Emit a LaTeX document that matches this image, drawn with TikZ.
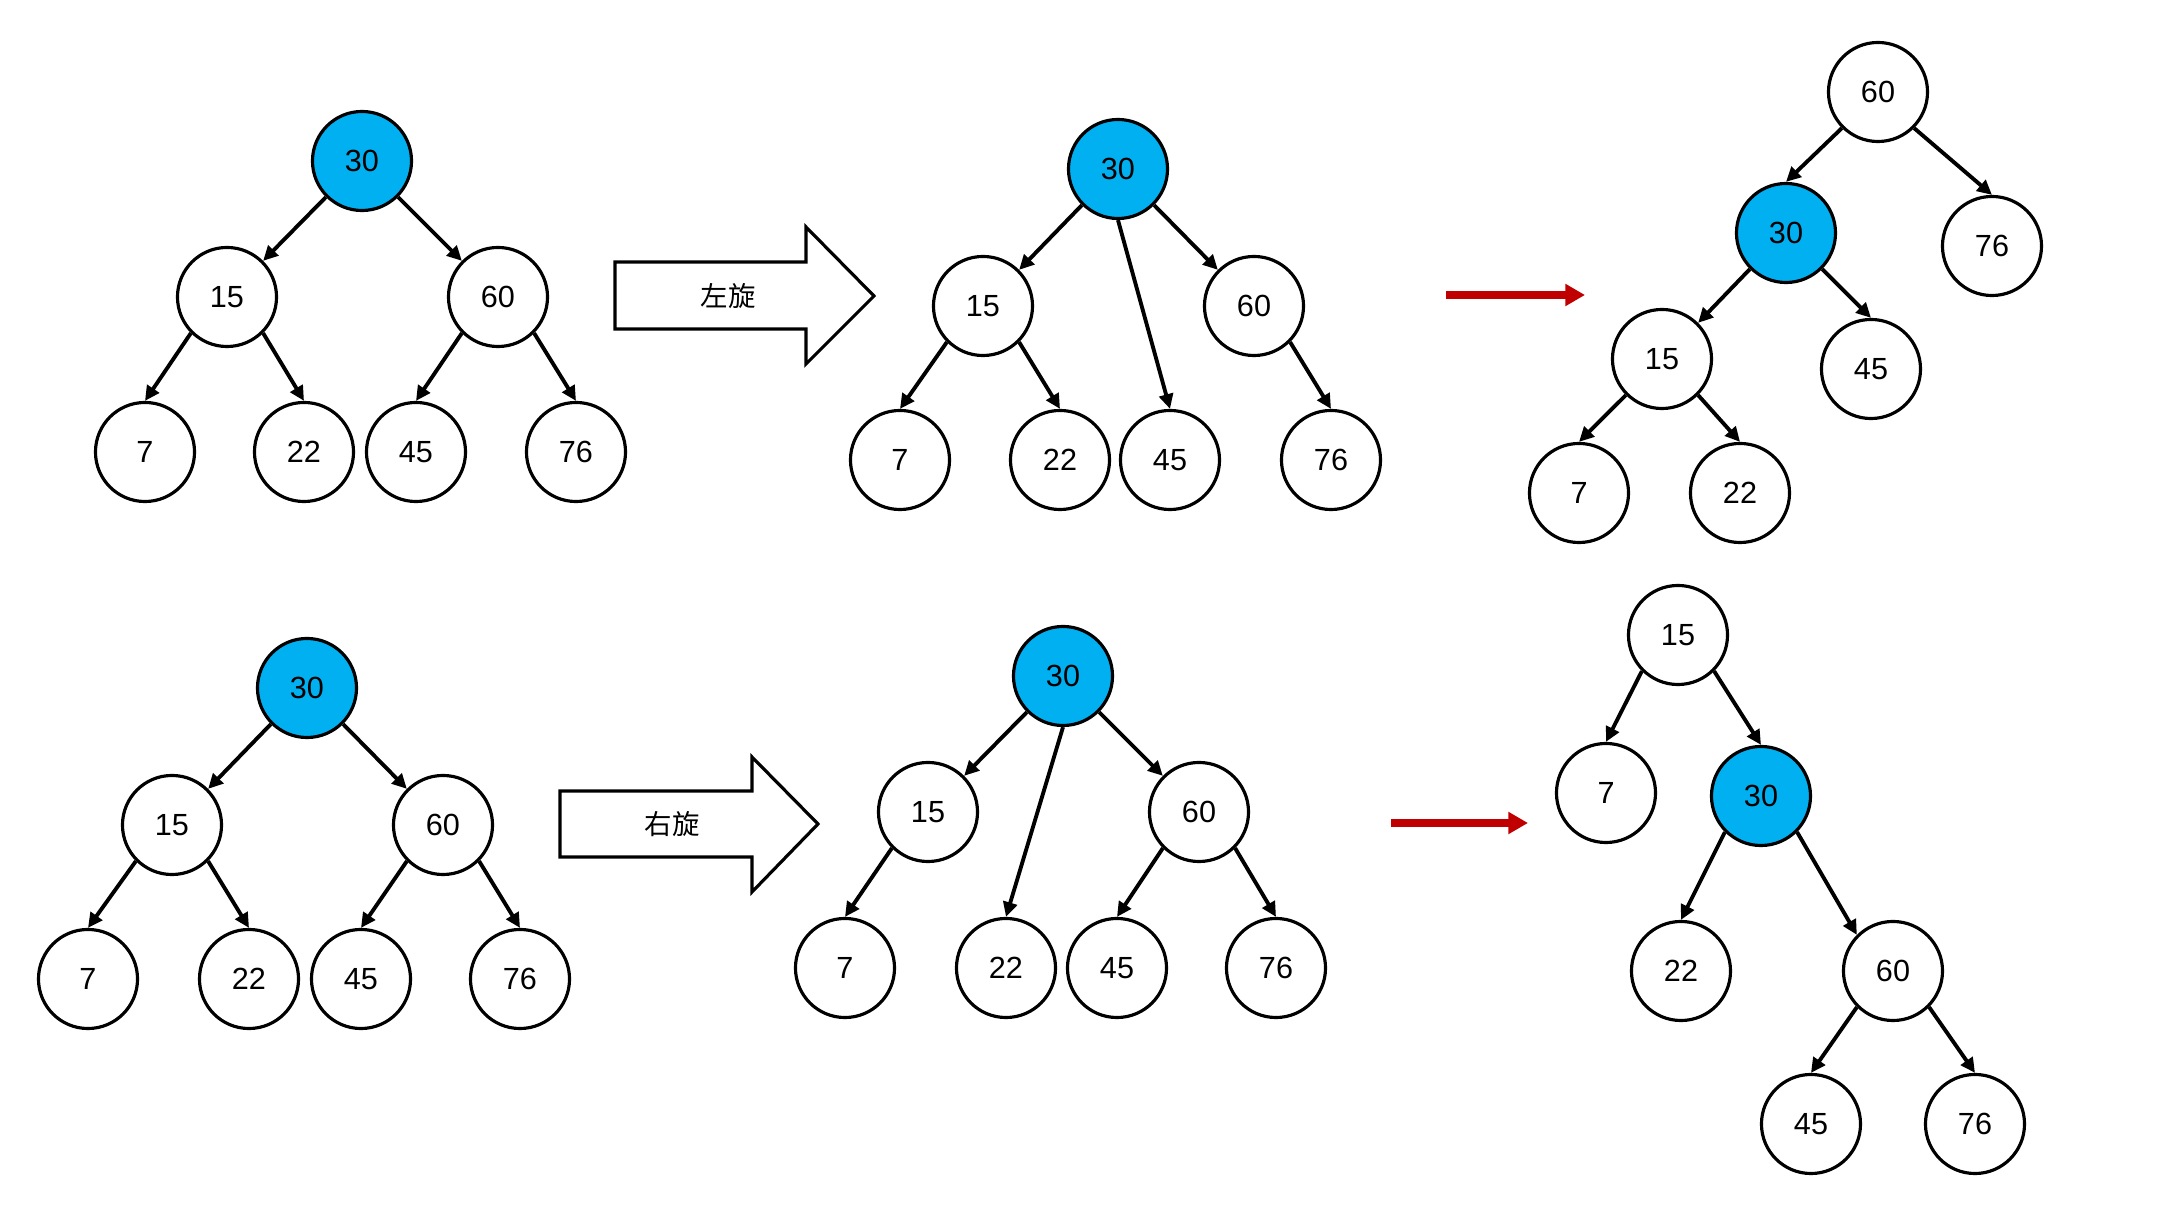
\documentclass[tikz,border=0pt]{standalone}
\usepackage{fontspec}
\setmainfont{Liberation Sans}
\newfontfamily\cjk{Noto Sans CJK SC}
\usetikzlibrary{arrows.meta}

\definecolor{pivotblue}{HTML}{00B0F0}
\definecolor{arrowred}{HTML}{C00000}

\begin{document}
\begin{tikzpicture}[x=0.01cm,y=-0.01cm,
    key node/.style={circle,draw,line width=0.9pt,minimum size=0.99cm,inner sep=0pt,font=\fontsize{8.7pt}{10pt}\selectfont},
    pivot node/.style={key node,fill=pivotblue},
    link/.style={-{Triangle[length=4.2pt,width=4pt]},line width=1.1pt},
    rot arrow/.style={draw,line width=0.9pt,fill=white},
    red arrow/.style={-{Triangle[length=5.6pt,width=6pt]},line width=2pt,draw=arrowred}]

    \useasboundingbox (0,0) rectangle (2159,1219);

    % top row: left rotation
    \node[pivot node] (a30) at (362,161) {30};
    \node[key node] (a15) at (227,297) {15};
    \node[key node] (a60) at (498,297) {60};
    \node[key node] (a7)  at (145,452) {7};
    \node[key node] (a22) at (304,452) {22};
    \node[key node] (a45) at (416,452) {45};
    \node[key node] (a76) at (576,452) {76};

    \draw[rot arrow] (615,262) -- (806,262) -- (806,227) -- (874,296)
        -- (806,364) -- (806,329) -- (615,329) -- cycle;
    \node[font=\cjk\fontsize{7.8pt}{9pt}\selectfont] (lrot) at (728,296) {左旋};

    \node[pivot node] (b30) at (1118,169) {30};
    \node[key node] (b15) at (983,306) {15};
    \node[key node] (b60) at (1254,306) {60};
    \node[key node] (b7)  at (900,460) {7};
    \node[key node] (b22) at (1060,460) {22};
    \node[key node] (b45) at (1170,460) {45};
    \node[key node] (b76) at (1331,460) {76};

    \coordinate (r1s) at (1446,295);
    \coordinate (r1e) at (1585,295);
    \draw[red arrow] (r1s) -- (r1e);

    \node[key node] (c60) at (1878,92) {60};
    \node[pivot node] (c30) at (1786,233) {30};
    \node[key node] (c76) at (1992,246) {76};
    \node[key node] (c15) at (1662,359) {15};
    \node[key node] (c45) at (1871,369) {45};
    \node[key node] (c7)  at (1579,493) {7};
    \node[key node] (c22) at (1740,493) {22};

    % bottom row: right rotation
    \node[pivot node] (d30) at (307,688) {30};
    \node[key node] (d15) at (172,825) {15};
    \node[key node] (d60) at (443,825) {60};
    \node[key node] (d7)  at (88,979) {7};
    \node[key node] (d22) at (249,979) {22};
    \node[key node] (d45) at (361,979) {45};
    \node[key node] (d76) at (520,979) {76};

    \draw[rot arrow] (560,791) -- (752,791) -- (752,757) -- (818,824)
        -- (752,892) -- (752,857) -- (560,857) -- cycle;
    \node[font=\cjk\fontsize{7.8pt}{9pt}\selectfont] (rrot) at (672,824) {右旋};

    \node[pivot node] (e30) at (1063,676) {30};
    \node[key node] (e15) at (928,812) {15};
    \node[key node] (e60) at (1199,812) {60};
    \node[key node] (e7)  at (845,968) {7};
    \node[key node] (e22) at (1006,968) {22};
    \node[key node] (e45) at (1117,968) {45};
    \node[key node] (e76) at (1276,968) {76};

    \coordinate (r2s) at (1391,823);
    \coordinate (r2e) at (1528,823);
    \draw[red arrow] (r2s) -- (r2e);

    \node[key node] (f15) at (1678,635) {15};
    \node[key node] (f7)  at (1606,793) {7};
    \node[pivot node] (f30) at (1761,796) {30};
    \node[key node] (f22) at (1681,971) {22};
    \node[key node] (f60) at (1893,971) {60};
    \node[key node] (f45) at (1811,1124) {45};
    \node[key node] (f76) at (1975,1124) {76};

    % edges, drawn between the connection points of the circles
    \foreach \t in {a,d}{
        \draw[link] (\t30.south west) -- (\t15.north east);
        \draw[link] (\t30.south east) -- (\t60.north west);
        \draw[link] (\t15.south west) -- (\t7.north);
        \draw[link] (\t15.south east) -- (\t22.north);
        \draw[link] (\t60.south west) -- (\t45.north);
        \draw[link] (\t60.south east) -- (\t76.north);
    }

    \foreach \from/\to in {b30.south west/b15.north east, b30.south east/b60.north west,
                           b30.south/b45.north, b15.south west/b7.north,
                           b15.south east/b22.north, b60.south east/b76.north,
                           c60.south west/c30.north, c60.south east/c76.north,
                           c30.south west/c15.north east, c30.south east/c45.north,
                           c15.south west/c7.north, c15.south east/c22.north,
                           e30.south west/e15.north east, e30.south east/e60.north west,
                           e30.south/e22.north, e15.south west/e7.north,
                           e60.south west/e45.north, e60.south east/e76.north,
                           f15.south west/f7.north, f15.south east/f30.north,
                           f30.south west/f22.north, f30.south east/f60.north west,
                           f60.south west/f45.north, f60.south east/f76.north}
        \draw[link] (\from) -- (\to);

\end{tikzpicture}
\end{document}
